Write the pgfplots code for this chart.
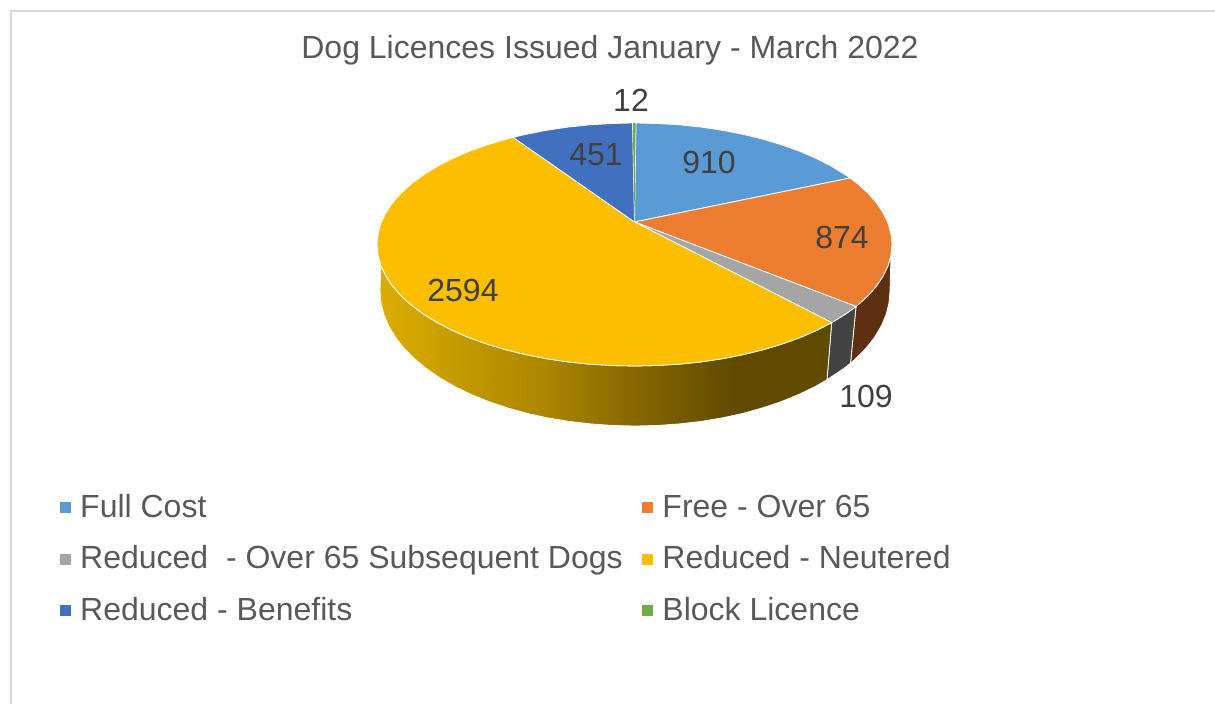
\documentclass[border=0pt]{standalone}
\usepackage{fontspec}
\setmainfont{Liberation Sans}
\usepackage{pgfplots}
\pgfplotsset{compat=1.18}
\definecolor{cA}{HTML}{5B9BD5}
\definecolor{cB}{HTML}{ED7D31}
\definecolor{cC}{HTML}{A5A5A5}
\definecolor{cD}{HTML}{FCBE00}
\definecolor{cE}{HTML}{4270C0}
\definecolor{cF}{HTML}{70AD47}
\definecolor{sB}{HTML}{5E2F10}
\definecolor{sC}{HTML}{434343}
\definecolor{tx}{HTML}{595959}
\definecolor{lb}{HTML}{404040}
\definecolor{y0}{HTML}{DCAD00}
\definecolor{y1}{HTML}{C69C00}
\definecolor{y2}{HTML}{A98400}
\definecolor{y3}{HTML}{8C6C00}
\definecolor{y4}{HTML}{7A5E00}
\definecolor{y5}{HTML}{5F4A00}
\pgfdeclarehorizontalshading{yside}{100bp}{color(0bp)=(y0); color(25bp)=(y0); color(32.9bp)=(y1); color(43.9bp)=(y2); color(51.7bp)=(y3); color(56.6bp)=(y4); color(64.3bp)=(y5); color(100bp)=(y5)}
\newcommand{\bigf}{\fontsize{32}{38}\selectfont}
\begin{document}
\begin{tikzpicture}
\useasboundingbox (0,0) rectangle (1215pt,704pt);
\begin{axis}[
  at={(0,0)}, anchor=south west,
  scale only axis, width=1215pt, height=704pt,
  xmin=0, xmax=1215, ymin=0, ymax=704, y dir=reverse,
  hide axis, clip=false,
  legend columns=2,
  legend cell align=left,
  legend image code/.code={\fill[draw=none,#1] (0pt,4pt) rectangle (11pt,15pt); \path (20pt,0pt);},
  legend style={
    at={(0.0494,0.2997)}, anchor=north west,
    draw=none, fill=none, inner sep=0pt, outer sep=0pt,
    font=\bigf, text=tx,
    nodes={inner sep=0pt, text height=24pt, text depth=7pt, anchor=base west},
    row sep=20.5pt,
    /tikz/column 2/.style={column sep=19.5pt},
  },
]
% frame
\addplot[forget plot, color=black!15, line width=2pt] coordinates {(10.5,704)(10.5,10.5)(1215,10.5)};
% sides
\addplot[forget plot, fill=sB, draw=white, line width=0.8pt] coordinates {
(856,306.5)(857.5,305.3)(867.9,295.8)(876.5,286.1)(883.2,275.9)(888.1,265.6)(891,255.1)(890,291)(889,302.8)(886.2,314.4)(881.3,325.9)(874.6,337.2)(866.1,348.1)(855.8,358.5)(850.5,363.2)} -- cycle;
\addplot[forget plot, fill=sC, draw=white, line width=0.8pt] coordinates {
(856,306.5)(845.4,314.2)(831.7,322.6)(827,379.7)(843.9,368.4)(850.5,363.2)} -- cycle;
\addplot[forget plot, shading=yside, draw=white, line width=0.8pt] coordinates {
(831.7,322.6)(816.6,330.4)(800.1,337.6)(782.2,344)(763.3,349.7)(743.3,354.6)(722.6,358.7)(701.1,361.9)(679.2,364.2)(657,365.5)(634.5,366)(612,365.5)(589.8,364.2)(567.9,361.9)(546.4,358.7)(525.7,354.6)(505.7,349.7)(486.8,344)(468.9,337.6)(452.4,330.4)(437.3,322.6)(423.6,314.2)(411.5,305.3)(401.1,295.8)(392.5,286.1)(385.8,275.9)(380.9,265.6)
(380,291)(381,302.8)(383.8,314.4)(388.7,325.9)(395.4,337.2)(403.9,348.1)(414.2,358.5)(426.1,368.4)(439.7,377.8)(454.7,386.5)(471.1,394.4)(488.7,401.6)(507.5,407.9)(527.2,413.4)(547.8,417.9)(569,421.4)(590.7,423.9)(612.8,425.5)(635,426)(657.2,425.5)(679.3,423.9)(701,421.4)(722.2,417.9)(742.8,413.4)(762.5,407.9)(781.3,401.6)(798.9,394.4)(815.3,386.5)(827,379.7)} -- cycle;
% top wedges
\addplot[forget plot, fill=cA, draw=white, line width=0.8pt] coordinates {
(634.5,222)(636,123)(657,123.5)(679.2,124.8)(701.1,127.1)(722.6,130.3)(743.3,134.4)(763.3,139.3)(782.2,145)(800.1,151.4)(816.6,158.6)(831.7,166.4)(845.4,174.8)(850,178)} -- cycle;
\addplot[forget plot, fill=cB, draw=white, line width=0.8pt] coordinates {
(634.5,222)(850,178)(857.5,183.7)(867.9,193.2)(876.5,202.9)(883.2,213.1)(888.1,223.4)(891,233.9)(892,244.5)(891,255.1)(888.1,265.6)(883.2,275.9)(876.5,286.1)(867.9,295.8)(857.5,305.3)(856,306.5)} -- cycle;
\addplot[forget plot, fill=cC, draw=white, line width=0.8pt] coordinates {
(634.5,222)(856,306.5)(845.4,314.2)(831.7,322.6)} -- cycle;
\addplot[forget plot, fill=cD, draw=white, line width=0.8pt] coordinates {
(634.5,222)(831.7,322.6)(816.6,330.4)(800.1,337.6)(782.2,344)(763.3,349.7)(743.3,354.6)(722.6,358.7)(701.1,361.9)(679.2,364.2)(657,365.5)(634.5,366)(612,365.5)(589.8,364.2)(567.9,361.9)(546.4,358.7)(525.7,354.6)(505.7,349.7)(486.8,344)(468.9,337.6)(452.4,330.4)(437.3,322.6)(423.6,314.2)(411.5,305.3)(401.1,295.8)(392.5,286.1)(385.8,275.9)(380.9,265.6)(378,255.1)(377,244.5)(378,233.9)(380.9,223.4)(385.8,213.1)(392.5,202.9)(401.1,193.2)(411.5,183.7)(423.6,174.8)(437.3,166.4)(452.4,158.6)(468.9,151.4)(486.8,145)(505.7,139.3)(513,137.3)} -- cycle;
\addplot[forget plot, fill=cE, draw=white, line width=0.8pt] coordinates {
(634.5,222)(513,137.3)(525.7,134.4)(546.4,130.3)(567.9,127.1)(589.8,124.8)(612,123.5)(632.5,123)} -- cycle;
\addplot[forget plot, fill=cF, draw=none] coordinates {
(634.5,222)(632.8,123)(635.6,123)} -- cycle;
% legend
\addlegendimage{fill=cA}\addlegendentry{Full Cost}
\addlegendimage{fill=cB}\addlegendentry{Free - Over 65}
\addlegendimage{fill=cC}\addlegendentry{Reduced \ - Over 65 Subsequent Dogs}
\addlegendimage{fill=cD}\addlegendentry{Reduced - Neutered}
\addlegendimage{fill=cE}\addlegendentry{Reduced - Benefits}
\addlegendimage{fill=cF}\addlegendentry{Block Licence}
% text
\node[font=\bigf, text=tx] at (axis cs:610,50) {Dog Licences Issued January - March 2022};
\node[font=\bigf, text=lb] at (axis cs:631,100) {12};
\node[font=\bigf, text=lb] at (axis cs:709,162) {910};
\node[font=\bigf, text=lb] at (axis cs:842,237) {874};
\node[font=\bigf, text=lb] at (axis cs:866,396) {109};
\node[font=\bigf, text=lb] at (axis cs:596,155) {451};
\node[font=\bigf, text=lb] at (axis cs:463,290) {2594};
\end{axis}
\end{tikzpicture}
\end{document}
